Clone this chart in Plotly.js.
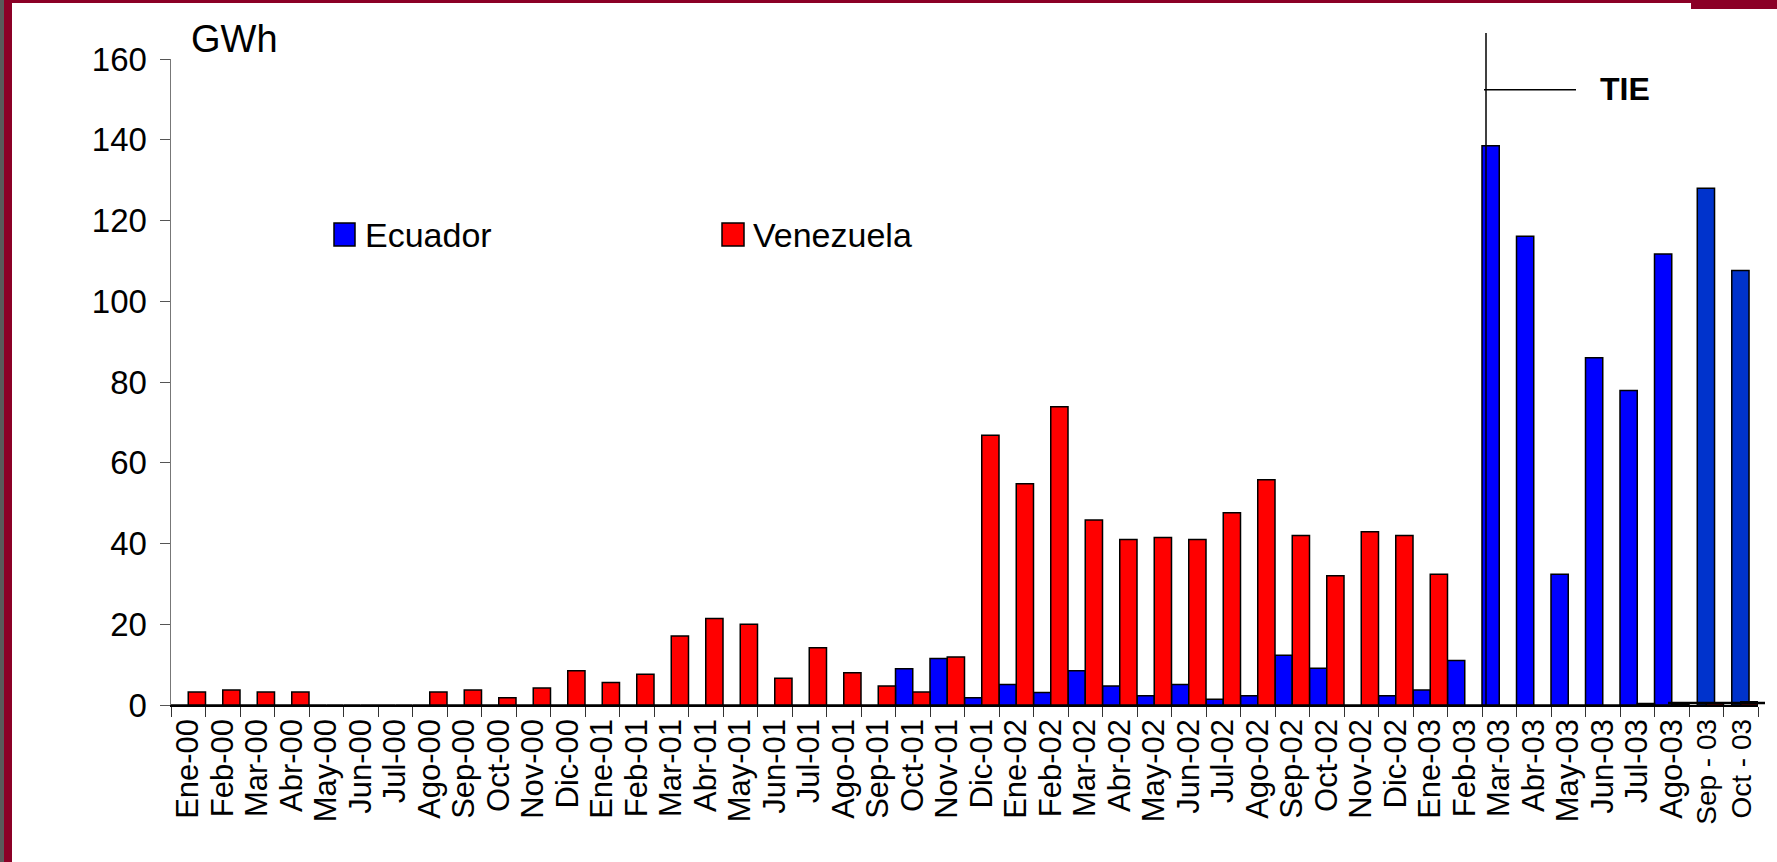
<!DOCTYPE html>
<html><head><meta charset="utf-8">
<script src="https://cdn.plot.ly/plotly-3.0.1.min.js"></script>
<style>
html,body{margin:0;padding:0;background:#fff;overflow:hidden;}
#chart{position:absolute;left:0;top:0;width:1777px;height:862px;}
.fr{position:absolute;z-index:10;}
</style></head><body>
<div id="chart"></div>
<div class="fr" style="left:0;top:0;width:4px;height:862px;background:#5a5a5a"></div>
<div class="fr" style="left:4px;top:0;width:8px;height:862px;background:#8b0026"></div>
<div class="fr" style="left:4px;top:0;width:1773px;height:3px;background:#8b0026"></div>
<div class="fr" style="left:1691px;top:0;width:86px;height:9px;background:#8b0026"></div>
<script>
// ---- data ----
const months = ["Ene-00","Feb-00","Mar-00","Abr-00","May-00","Jun-00","Jul-00","Ago-00","Sep-00","Oct-00","Nov-00","Dic-00",
  "Ene-01","Feb-01","Mar-01","Abr-01","May-01","Jun-01","Jul-01","Ago-01","Sep-01","Oct-01","Nov-01","Dic-01",
  "Ene-02","Feb-02","Mar-02","Abr-02","May-02","Jun-02","Jul-02","Ago-02","Sep-02","Oct-02","Nov-02","Dic-02",
  "Ene-03","Feb-03","Mar-03","Abr-03","May-03","Jun-03","Jul-03","Ago-03","Sep - 03","Oct - 03"];
const ecuador = [0,0,0,0,0,0,0,0,0,0,0,0,
  0,0,0,0,0,0,0,0,0,9.0,11.5,1.8,
  5.1,3.1,8.5,4.7,2.3,5.1,1.4,2.3,12.3,9.1,0,2.3,
  3.7,11.0,138.5,116.1,32.4,86.0,77.9,111.7,128.0,107.6];
const venezuela = [3.2,3.7,3.2,3.2,0,0,0,3.2,3.7,1.8,4.2,8.5,
  5.6,7.6,17.1,21.4,20.0,6.6,14.2,8.0,4.7,3.2,11.9,66.8,
  54.8,73.9,45.8,41.0,41.5,41.0,47.6,55.8,42.0,32.0,42.9,42.0,
  32.4,0,0,0,0,0,0.4,0.3,0.5,0.8];
const seriesNames = ["Ecuador","Venezuela"];
const unitLabel = "GWh";
const markerLabel = "TIE";

// ---- geometry helpers (layout only) ----
const W = 1777, H = 862;
const ML = 171, MR = 19, MT = 59, MB = 157;
const PW = W - ML - MR, PH = H - MT - MB;
const px = X => (X - ML) / PW;
const py = Y => (H - MB - Y) / PH;

const FONT = "Liberation Sans, Arial, sans-serif";
const nLast = 2; // last two months come from a pasted block, drawn slightly differently
const isLast = i => i >= months.length - nLast;
const ecColors = months.map((m, i) => isLast(i) ? "#0033cc" : "#0000ff");
const ecOffset = months.map((m, i) => isLast(i) ? -0.26 : -0.5);
const tickText = months.map((m, i) => isLast(i) ? '<span style="font-size:28px">' + m + '</span>' : m);

const traces = [
  {type: "bar", name: seriesNames[0], x: months, y: ecuador, offset: ecOffset, width: 0.5,
   marker: {color: ecColors, line: {color: "#000", width: 1.5}}},
  {type: "bar", name: seriesNames[1], x: months, y: venezuela, offset: 0, width: 0.5,
   marker: {color: "#ff0000", line: {color: "#000", width: 1.5}}}
];

const layout = {
  width: W, height: H,
  margin: {l: ML, r: MR, t: MT, b: MB, pad: 0},
  paper_bgcolor: "#fff", plot_bgcolor: "#fff",
  barmode: "group", bargap: 0, bargroupgap: 0,
  showlegend: false,
  font: {family: FONT, color: "#000"},
  xaxis: {type: "category", range: [-0.5, months.length - 0.5], tickson: "boundaries",
    tickmode: "array", tickvals: months, ticktext: tickText,
    ticks: "outside", ticklen: 10, tickcolor: "#333", tickwidth: 1,
    showline: true, linecolor: "#000", linewidth: 1.5,
    tickangle: -90, tickfont: {family: FONT, size: 31, color: "#000"},
    showgrid: false, zeroline: false, fixedrange: true},
  yaxis: {range: [0, 160], dtick: 20, tick0: 0,
    ticks: "outside", ticklen: 10, tickcolor: "#555", tickwidth: 1,
    showline: true, linecolor: "#777", linewidth: 1.5,
    tickfont: {family: FONT, size: 33, color: "#000"}, ticklabelstandoff: 6,
    showgrid: false, zeroline: false, fixedrange: true},
  shapes: [
    // legend swatches
    {type: "rect", xref: "paper", yref: "paper", x0: px(334), x1: px(355), y0: py(246), y1: py(223),
     fillcolor: "#0000ff", line: {color: "#000", width: 1.5}},
    {type: "rect", xref: "paper", yref: "paper", x0: px(722), x1: px(744), y0: py(246), y1: py(223),
     fillcolor: "#ff0000", line: {color: "#000", width: 1.5}},
    // TIE marker lines
    {type: "line", xref: "paper", yref: "paper", x0: px(1486), x1: px(1486), y0: py(33), y1: py(705),
     line: {color: "#000", width: 1.5}},
    {type: "line", xref: "paper", yref: "paper", x0: px(1484), x1: px(1576), y0: py(89.7), y1: py(89.7),
     line: {color: "#000", width: 1.5}},
    // base line under last two bars
    {type: "line", xref: "paper", yref: "paper", x0: px(1668), x1: px(1765), y0: py(703), y1: py(703),
     line: {color: "#000", width: 2.5}}
  ],
  annotations: [
    {text: unitLabel, xref: "paper", yref: "paper", x: px(189), y: py(39), xanchor: "left", yanchor: "middle",
     showarrow: false, font: {family: FONT, size: 38, color: "#000"}},
    {text: seriesNames[0], xref: "paper", yref: "paper", x: px(363), y: py(235), xanchor: "left", yanchor: "middle",
     showarrow: false, font: {family: FONT, size: 34, color: "#000"}},
    {text: seriesNames[1], xref: "paper", yref: "paper", x: px(751), y: py(235), xanchor: "left", yanchor: "middle",
     showarrow: false, font: {family: FONT, size: 34, color: "#000"}},
    {text: "<b>" + markerLabel + "</b>", xref: "paper", yref: "paper", x: px(1598), y: py(89), xanchor: "left", yanchor: "middle",
     showarrow: false, font: {family: FONT, size: 32, color: "#000"}}
  ]
};

Plotly.newPlot("chart", traces, layout, {staticPlot: true, displayModeBar: false});
</script>
</body></html>
